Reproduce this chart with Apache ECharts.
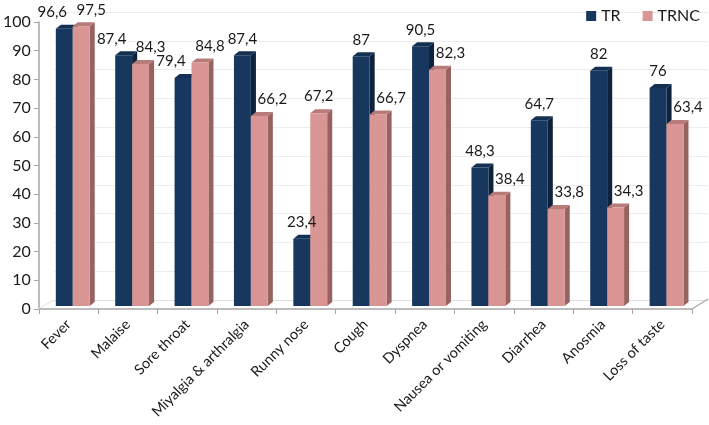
<!DOCTYPE html>
<html>
<head>
<meta charset="utf-8">
<script src="https://cdn.jsdelivr.net/npm/echarts@6/dist/echarts.min.js"></script>
<style>html,body{margin:0;padding:0;background:#fff}#c{width:709px;height:425px}</style>
</head>
<body>
<div id="c"></div>
<script>
const categories = ['Fever', 'Malaise', 'Sore throat', 'Miyalgia & arthralgia', 'Runny nose', 'Cough', 'Dyspnea', 'Nausea or vomiting', 'Diarrhea', 'Anosmia', 'Loss of taste'];
const trValues = [96.6, 87.4, 79.4, 87.4, 23.4, 87, 90.5, 48.3, 64.7, 82, 76];
const trncValues = [97.5, 84.3, 84.8, 66.2, 67.2, 66.7, 82.3, 38.4, 33.8, 34.3, 63.4];
const seriesNames = ['TR', 'TRNC'];

const palette = [
  { front: '#17375E', side: '#0D223D', top: '#132F52' },
  { front: '#D99594', side: '#976260', top: '#B97B79' }
];
const FONT = 'Lato, "Open Sans", sans-serif';

function labelOffset(s, ci) {
  const tr = trValues[ci], trnc = trncValues[ci];
  const diff = tr - trnc;
  if (Math.abs(diff) < 6) return s === 0 ? -12 : 10;
  if (tr > trnc) return s === 0 ? 0 : 13;
  return 0;
}

function geom(s, api) {
  const ci = api.value(0), v = api.value(1);
  const band = api.size([1, 0])[0];
  const c = api.coord([ci, v]);
  const b = api.coord([ci, 0]);
  const bw = band * 0.285;
  const dx = band * 0.085, dy = 4, lift = 3;
  const left = c[0] - band * 0.214 + s * bw;
  return { ci, v, bw, dx, dy, left, top: c[1] - lift, base: b[1] - lift };
}

function makeRender(s) {
  const col = palette[s];
  return function (params, api) {
    const g = geom(s, api);
    const { bw, dx, dy, left, top, base } = g;
    return {
      type: 'group',
      children: [
        { type: 'polygon', shape: { points: [[left + bw, top], [left + bw + dx, top - dy], [left + bw + dx, base - dy], [left + bw, base]] }, style: { fill: col.side } },
        { type: 'polygon', shape: { points: [[left, top], [left + dx, top - dy], [left + bw + dx, top - dy], [left + bw, top]] }, style: { fill: col.top } },
        { type: 'rect', shape: { x: left, y: top, width: bw, height: base - top }, style: { fill: col.front } }
      ]
    };
  };
}

function makeLabelRender(s) {
  return function (params, api) {
    const g = geom(s, api);
    return {
      type: 'text',
      style: { text: String(g.v).replace('.', ','), x: g.left + g.bw / 2 + labelOffset(s, g.ci), y: g.top - 9, align: 'center', verticalAlign: 'bottom', font: '15px ' + FONT, fill: '#1a1a1a' }
    };
  };
}

const chart = echarts.init(document.getElementById('c'));
chart.setOption({
  animation: false,
  backgroundColor: '#fff',
  legend: {
    data: seriesNames, right: 4, top: 3, icon: 'rect', itemWidth: 10, itemHeight: 10, itemGap: 22,
    textStyle: { fontFamily: FONT, fontSize: 16, color: '#1a1a1a' }
  },
  grid: [
    { left: 38, right: 17, top: 22, bottom: 116 },
    { left: 54, right: 1, top: 12, bottom: 125 }
  ],
  xAxis: [
    {
      type: 'category', gridIndex: 0, data: categories,
      axisLine: { lineStyle: { color: '#A6A6A6', width: 1.5 } },
      axisTick: { show: true, length: 5, lineStyle: { color: '#A6A6A6' } },
      axisLabel: { rotate: 45, margin: 13, fontFamily: FONT, fontSize: 14.5, color: '#1a1a1a', interval: 0 },
      splitLine: { show: false }
    },
    {
      type: 'category', gridIndex: 1, data: categories,
      axisLine: { lineStyle: { color: '#E0E0E0', width: 1 } },
      axisTick: { show: false }, axisLabel: { show: false }
    }
  ],
  yAxis: [
    {
      type: 'value', gridIndex: 0, min: 0, max: 100, interval: 10,
      axisLine: { show: true, lineStyle: { color: '#A6A6A6', width: 1.5 } },
      axisTick: { show: true, length: 5, lineStyle: { color: '#A6A6A6' } },
      axisLabel: { margin: 8, fontFamily: FONT, fontSize: 16, color: '#1a1a1a' },
      splitLine: { show: false }
    },
    {
      type: 'value', gridIndex: 1, min: 0, max: 100, interval: 10,
      axisLine: { show: false }, axisTick: { show: false }, axisLabel: { show: false },
      splitLine: { show: true, lineStyle: { color: '#EDEDED', width: 1 } }
    }
  ],
  graphic: [
    { type: 'line', shape: { x1: 38, y1: 309, x2: 54, y2: 300 }, style: { stroke: '#E0E0E0', lineWidth: 1 }, z: 1 },
    { type: 'line', shape: { x1: 692, y1: 309, x2: 708, y2: 299 }, style: { stroke: '#A6A6A6', lineWidth: 1.2 }, z: 1 }
  ],
  series: [
    { name: 'TR', type: 'custom', xAxisIndex: 0, yAxisIndex: 0, itemStyle: { color: palette[0].front }, renderItem: makeRender(0), data: trValues.map((v, i) => [i, v]), z: 3 },
    { name: 'TRNC', type: 'custom', xAxisIndex: 0, yAxisIndex: 0, itemStyle: { color: palette[1].front }, renderItem: makeRender(1), data: trncValues.map((v, i) => [i, v]), z: 4 },
    { name: 'TR labels', type: 'custom', xAxisIndex: 0, yAxisIndex: 0, renderItem: makeLabelRender(0), data: trValues.map((v, i) => [i, v]), z: 6, silent: true },
    { name: 'TRNC labels', type: 'custom', xAxisIndex: 0, yAxisIndex: 0, renderItem: makeLabelRender(1), data: trncValues.map((v, i) => [i, v]), z: 6, silent: true }
  ]
});
</script>
</body>
</html>
